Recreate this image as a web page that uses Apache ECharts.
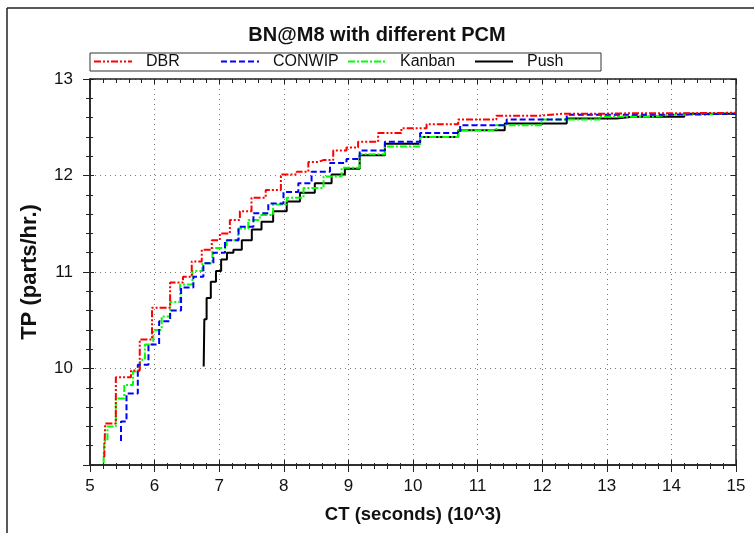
<!DOCTYPE html>
<html>
<head>
<meta charset="utf-8">
<script src="https://cdn.jsdelivr.net/npm/echarts@6/dist/echarts.min.js"></script>
<style>html,body{margin:0;padding:0;background:#fff}#c{width:754px;height:533px}</style>
</head>
<body>
<div id="c"></div>
<script>
// ---- data ----
const seriesNames = ['DBR', 'CONWIP', 'Kanban', 'Push'];
const xTicks = [5, 6, 7, 8, 9, 10, 11, 12, 13, 14, 15];
const yTicks = [10, 11, 12, 13];

const dbrCT = [5.22, 5.25, 5.55, 5.72, 5.82, 6.10, 6.38, 6.50, 6.65, 6.81, 6.96, 7.06, 7.27, 7.37, 7.63, 7.81, 8.10, 8.30, 8.46, 8.61, 8.92, 9.02, 9.28, 9.64, 10.0, 10.42, 10.98, 11.60, 12.33, 13.4, 15.0];
const dbrTP = [9.08, 9.43, 9.91, 9.98, 10.30, 10.63, 10.89, 10.95, 11.11, 11.23, 11.33, 11.40, 11.54, 11.63, 11.77, 11.85, 12.01, 12.04, 12.14, 12.16, 12.26, 12.29, 12.35, 12.44, 12.49, 12.53, 12.58, 12.62, 12.64, 12.645, 12.65];

const conwipCT = [5.48, 5.48, 5.65, 5.83, 5.98, 6.16, 6.32, 6.50, 6.70, 6.81, 7.01, 7.17, 7.43, 7.63, 7.89, 8.10, 8.35, 8.51, 8.92, 9.02, 9.33, 9.80, 10.42, 11.04, 11.86, 12.9, 15.0];
const conwipTP = [9.25, 9.45, 9.74, 10.04, 10.25, 10.49, 10.60, 10.84, 10.95, 11.09, 11.20, 11.33, 11.47, 11.61, 11.71, 11.83, 11.92, 12.04, 12.13, 12.17, 12.26, 12.35, 12.44, 12.52, 12.58, 12.63, 12.64];

const kanbanCT = [5.21, 5.23, 5.31, 5.49, 5.57, 5.76, 5.80, 5.90, 6.06, 6.16, 6.32, 6.47, 6.70, 6.78, 7.01, 7.22, 7.37, 7.53, 7.73, 7.94, 8.15, 8.46, 8.77, 9.02, 9.33, 9.80, 10.42, 10.98, 11.60, 12.38, 13.4, 14.0, 15.0];
const kanbanTP = [9.02, 9.25, 9.40, 9.69, 9.83, 9.97, 10.09, 10.25, 10.40, 10.54, 10.69, 10.87, 11.01, 11.09, 11.25, 11.33, 11.45, 11.54, 11.59, 11.70, 11.77, 11.87, 11.99, 12.08, 12.22, 12.30, 12.40, 12.47, 12.52, 12.58, 12.61, 12.63, 12.65];

const pushCT = [6.76, 6.78, 6.83, 6.91, 6.99, 7.07, 7.17, 7.27, 7.43, 7.58, 7.73, 7.94, 8.15, 8.35, 8.61, 8.87, 9.02, 9.33, 9.80, 10.42, 10.98, 11.86, 12.9, 13.4, 15.0];
const pushTP = [10.02, 10.51, 10.73, 10.90, 11.01, 11.13, 11.20, 11.23, 11.33, 11.44, 11.52, 11.63, 11.73, 11.82, 11.92, 12.01, 12.07, 12.21, 12.33, 12.40, 12.47, 12.54, 12.59, 12.61, 12.64];

// ---- chart ----
const zip = (a, b) => a.map((v, i) => [v, b[i]]);
const FONT = '"Liberation Sans", Arial, sans-serif';
const AX = '#222';
const chart = echarts.init(document.getElementById('c'), null, {renderer: 'canvas'});

const grid = {left: 90, right: 18, top: 79, bottom: 68};
const xMin = xTicks[0], xMax = xTicks[xTicks.length - 1];
const yMin = 9, yMax = yTicks[yTicks.length - 1];

function mkX(extra) {
  return Object.assign({
    type: 'value', min: xMin, max: xMax, interval: 1,
    axisLine: {show: true, onZero: false, lineStyle: {color: AX, width: 1.5}},
    axisTick: {show: true, length: 7, lineStyle: {color: AX}},
    minorTick: {show: true, splitNumber: 5, length: 4, lineStyle: {color: AX}},
    axisLabel: {show: false},
    splitLine: {show: false}
  }, extra);
}
function mkY(extra) {
  return Object.assign({
    type: 'value', min: yMin, max: yMax, interval: 1,
    axisLine: {show: true, onZero: false, lineStyle: {color: AX, width: 1.5}},
    axisTick: {show: true, length: 7, lineStyle: {color: AX}},
    minorTick: {show: true, splitNumber: 5, length: 4, lineStyle: {color: AX}},
    axisLabel: {show: false},
    splitLine: {show: false}
  }, extra);
}

const styles = {
  DBR: {color: '#ff0000', type: [7, 2, 2, 2, 2, 2]},
  CONWIP: {color: '#0000ff', type: [6, 3]},
  Kanban: {color: '#00ff00', type: [7, 2, 2, 2]},
  Push: {color: '#000000', type: 'solid'}
};
const dataMap = {
  DBR: zip(dbrCT, dbrTP),
  CONWIP: zip(conwipCT, conwipTP),
  Kanban: zip(kanbanCT, kanbanTP),
  Push: zip(pushCT, pushTP)
};
const drawOrder = ['Push', 'Kanban', 'CONWIP', 'DBR'];

chart.setOption({
  animation: false,
  backgroundColor: '#fff',
  title: {
    text: 'BN@M8 with different PCM', left: 'center', top: 20,
    textStyle: {fontFamily: FONT, fontSize: 20, fontWeight: 'bold', color: '#111'}
  },
  legend: {
    data: seriesNames,
    left: 90, top: 53, orient: 'horizontal',
    itemWidth: 38, itemHeight: 10, itemGap: 8,
    padding: [0, 8, 1, 3],
    borderColor: '#333', borderWidth: 1,
    itemStyle: {color: 'rgba(0,0,0,0)', borderColor: 'rgba(0,0,0,0)', borderWidth: 0},
    textStyle: {fontFamily: FONT, fontSize: 16, lineHeight: 17, color: '#111', width: 66, padding: [0, 0, 0, 9]}
  },
  grid: grid,
  xAxis: [
    mkX({
      position: 'bottom',
      name: 'CT (seconds) (10^3)', nameLocation: 'middle', nameGap: 40,
      nameTextStyle: {fontFamily: FONT, fontSize: 18.5, fontWeight: 'bold', color: '#111'},
      axisLabel: {show: true, margin: 13, fontFamily: FONT, fontSize: 17, color: '#111'},
      splitLine: {show: true, lineStyle: {color: '#777', type: [1, 4], width: 1}}
    }),
    mkX({position: 'bottom', axisTick: {show: true, inside: true, length: 5, lineStyle: {color: AX}},
         minorTick: {show: true, splitNumber: 5, length: 2, lineStyle: {color: AX}}}),
    mkX({position: 'top', axisTick: {show: true, inside: true, length: 5, lineStyle: {color: AX}},
         minorTick: {show: true, splitNumber: 5, length: 4, lineStyle: {color: AX}}})
  ],
  yAxis: [
    mkY({
      position: 'left',
      name: 'TP (parts/hr.)', nameLocation: 'middle', nameGap: 49, nameRotate: 90,
      nameTextStyle: {fontFamily: FONT, fontSize: 22, fontWeight: 'bold', color: '#111'},
      axisLabel: {show: true, margin: 17, fontFamily: FONT, fontSize: 17, color: '#111',
                  formatter: v => (yTicks.indexOf(v) >= 0 ? String(v) : '')},
      splitLine: {show: true, lineStyle: {color: '#777', type: [1, 4], width: 1}}
    }),
    mkY({position: 'left', axisTick: {show: true, inside: true, length: 4, lineStyle: {color: AX}},
         minorTick: {show: true, splitNumber: 5, length: 3, lineStyle: {color: AX}}}),
    mkY({position: 'right', axisTick: {show: true, inside: true, length: 5, lineStyle: {color: AX}},
         minorTick: {show: true, splitNumber: 5, length: 4, lineStyle: {color: AX}}})
  ],
  graphic: [
    {type: 'line', shape: {x1: 7, y1: 8, x2: 7, y2: 533}, style: {stroke: '#222', lineWidth: 1.5}, silent: true},
    {type: 'line', shape: {x1: 7, y1: 8, x2: 754, y2: 8}, style: {stroke: '#222', lineWidth: 1.5}, silent: true}
  ],
  series: drawOrder.map(n => ({
    name: n, type: 'line', step: 'middle', xAxisIndex: 0, yAxisIndex: 0,
    data: dataMap[n], symbol: 'none', showSymbol: false,
    lineStyle: {color: styles[n].color, width: 2, type: styles[n].type},
    itemStyle: {color: styles[n].color}
  }))
});
</script>
</body>
</html>
